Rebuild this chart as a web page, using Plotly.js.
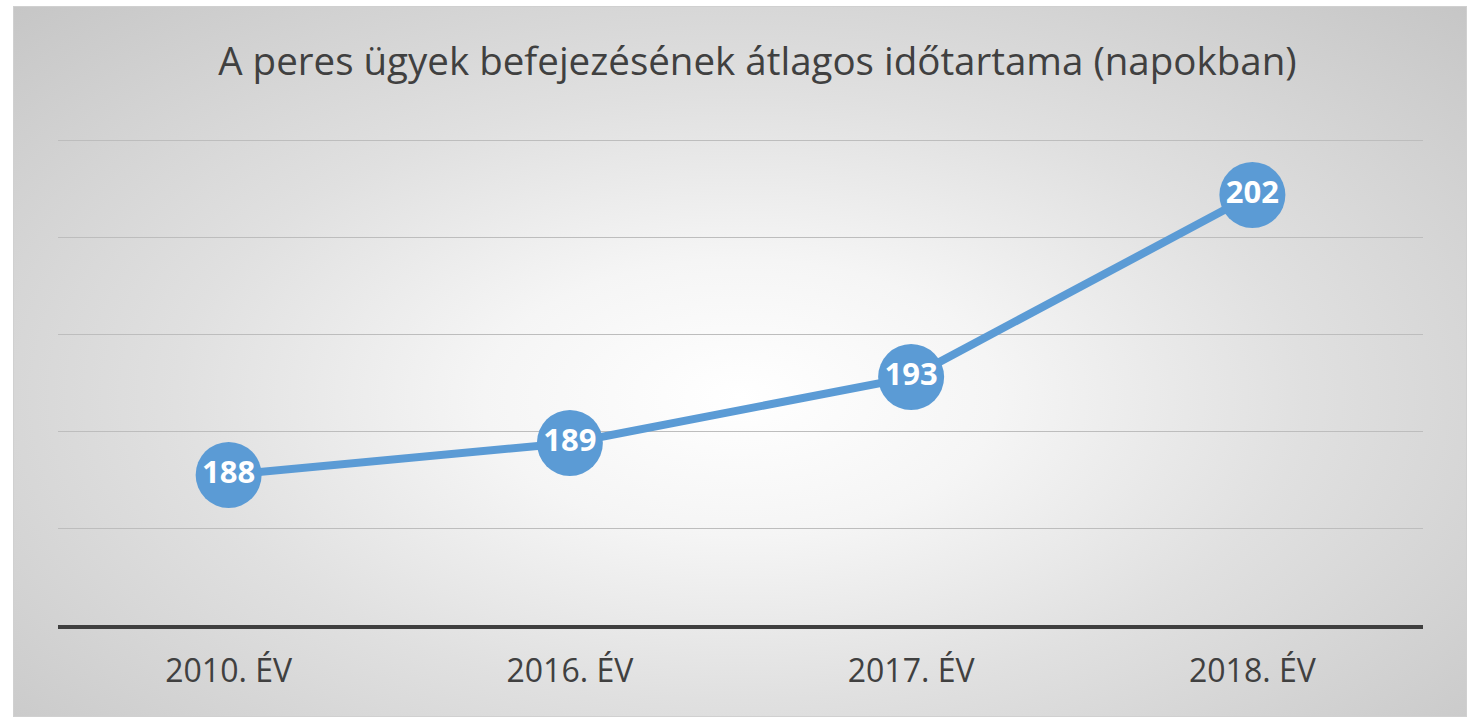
<!DOCTYPE html>
<html>
<head>
<meta charset="utf-8">
<script src="https://cdn.plot.ly/plotly-3.0.1.min.js"></script>
<style>
  html, body { margin: 0; padding: 0; background: #ffffff; width: 1473px; height: 717px; overflow: hidden; }
  #frame {
    position: absolute; left: 13px; top: 6px; width: 1454px; height: 711px;
    box-sizing: border-box; border: 1px solid #d0d0d0;
    background: radial-gradient(ellipse farthest-corner at 50% 55%, #ffffff 0%, #f5f5f5 25%, #e0e0e0 55%, #c6c6c6 100%);
  }
  #chart { position: absolute; left: -1px; top: -1px; width: 1454px; height: 711px; }
</style>
</head>
<body>
<div id="frame"><div id="chart"></div></div>
<script>
const categories = ["2010. ÉV", "2016. ÉV", "2017. ÉV", "2018. ÉV"];
const values = [187.75, 189.4, 192.8, 202.2];
const labels = values.map(v => String(Math.round(v)));
const gridValues = [180, 185, 190, 195, 200, 205];
const chartTitle = "A peres ügyek befejezésének átlagos időtartama (napokban)";

const trace = {
  type: "scatter",
  mode: "lines+markers+text",
  x: categories,
  y: values,
  text: labels,
  textposition: "middle center",
  textfont: { family: "Open Sans, sans-serif", size: 31, color: "#ffffff", weight: "bold" },
  line: { color: "#5b9bd5", width: 8 },
  marker: { color: "#5b9bd5", size: 66, line: { width: 0 } },
  cliponaxis: false,
  hoverinfo: "skip"
};

const layout = {
  width: 1454, height: 711,
  paper_bgcolor: "rgba(0,0,0,0)",
  plot_bgcolor: "rgba(0,0,0,0)",
  margin: { l: 45, r: 44, t: 129, b: 92 },
  showlegend: false,
  title: {
    text: chartTitle,
    font: { family: "Open Sans, sans-serif", size: 38.5, color: "#404040" },
    x: 0.512, xanchor: "center",
    y: 0.922, yanchor: "middle"
  },
  xaxis: {
    type: "category",
    range: [-0.5, 3.5],
    showgrid: false,
    zeroline: false,
    showline: true, linecolor: "#3f3f3f", linewidth: 4,
    ticks: "",
    ticklabelstandoff: 15,
    tickfont: { family: "Open Sans, sans-serif", size: 32, color: "#404040" }
  },
  yaxis: {
    range: [180, 205.3],
    tickvals: gridValues,
    showgrid: true, gridcolor: "#bdbdbd", gridwidth: 1,
    zeroline: false, showline: false,
    showticklabels: false, ticks: ""
  }
};

Plotly.newPlot("chart", [trace], layout, { staticPlot: true, displayModeBar: false });
</script>
</body>
</html>
